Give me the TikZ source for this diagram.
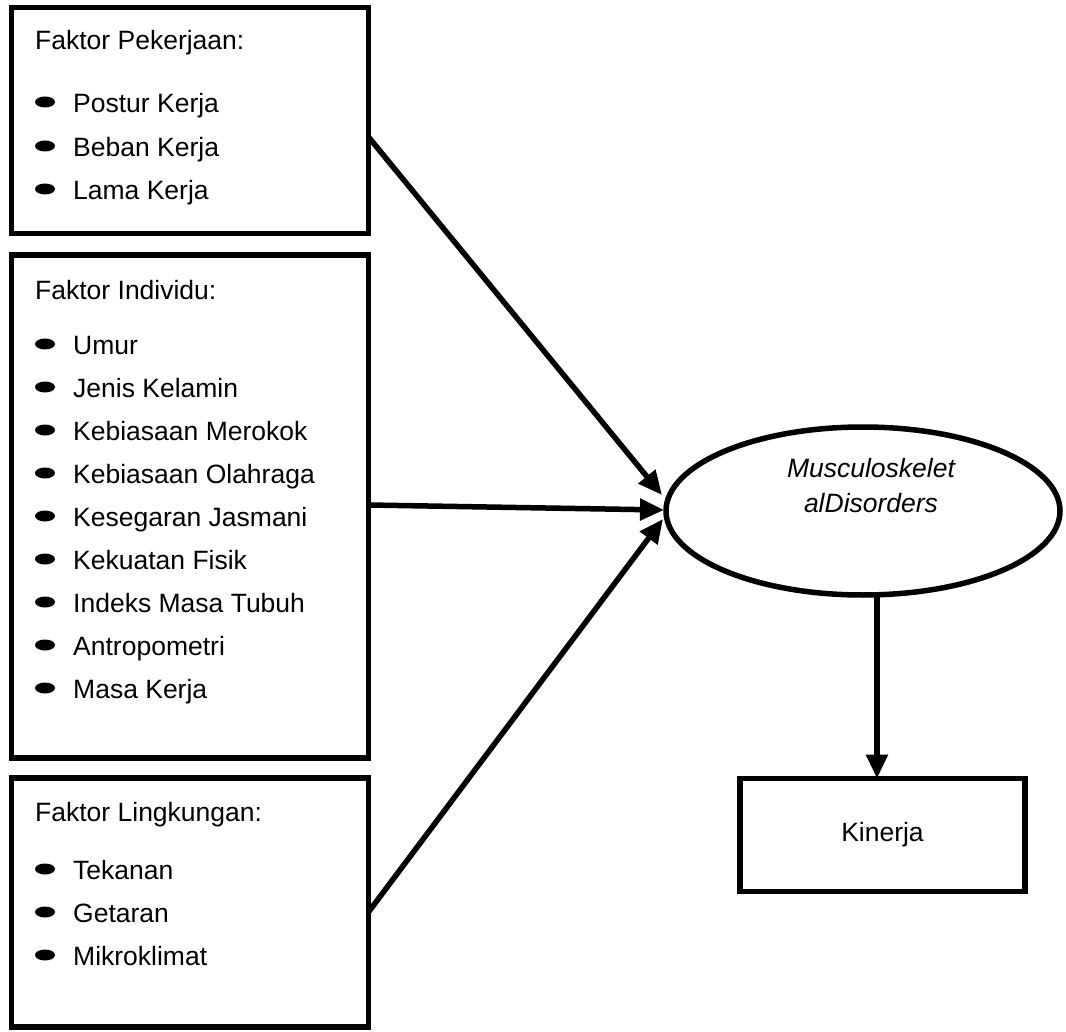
\documentclass[tikz,border=0pt]{standalone}
\usepackage{fontspec}
\setmainfont{Liberation Sans}
\usetikzlibrary{arrows.meta,shapes.geometric}

\begin{document}
\begin{tikzpicture}[x=1pt,y=-1pt,
        kotak/.style={draw,line width=5.5pt,outer sep=0pt,inner sep=0pt,font=\fontsize{26.5}{31}\selectfont},
        teks/.style={anchor=base west,inner sep=0pt,font=\fontsize{26.5}{31}\selectfont},
        titik/.style={fill,ellipse,minimum width=20pt,minimum height=11pt,inner sep=0pt},
        panah/.style={line width=5.5pt,-{Triangle[length=24pt,width=21pt]}}]
        \useasboundingbox (0,0) rectangle (1066,1032);
        % kotak faktor
        \node[kotak,minimum width=357pt,minimum height=226pt] (pekerjaan) at (190,120.5) {};
        \node[kotak,minimum width=357pt,minimum height=503pt] (individu) at (190,506.5) {};
        \node[kotak,minimum width=357pt,minimum height=249pt] (lingkungan) at (190,902.5) {};
        \node[kotak,ellipse,minimum width=394pt,minimum height=168pt] (msd) at (863,511) {};
        \node[kotak,minimum width=285pt,minimum height=113pt] (kinerja) at (882.5,835) {Kinerja};
        \node[align=center,font=\fontsize{26.5}{35}\selectfont\itshape] (msdteks) at (871,486) {Musculoskelet\\alDisorders};
        % faktor pekerjaan
        \node[teks] (judul1) at (35,49.5) {Faktor Pekerjaan:};
        \node[titik] (t11) at (45,102) {}; \node[teks] (postur) at (73,112.5) {Postur Kerja};
        \node[titik] (t12) at (45,146) {}; \node[teks] (beban) at (73,156.5) {Beban Kerja};
        \node[titik] (t13) at (45,189) {}; \node[teks] (lama) at (73,199.5) {Lama Kerja};
        % faktor individu
        \node[teks] (judul2) at (35,299.5) {Faktor Individu:};
        \node[titik] (t21) at (45,344) {}; \node[teks] (umur) at (73,354.5) {Umur};
        \node[titik] (t22) at (45,387) {}; \node[teks] (jenis) at (73,397.5) {Jenis Kelamin};
        \node[titik] (t23) at (45,430) {}; \node[teks] (merokok) at (73,440.5) {Kebiasaan Merokok};
        \node[titik] (t24) at (45,473) {}; \node[teks] (olahraga) at (73,483.5) {Kebiasaan Olahraga};
        \node[titik] (t25) at (45,516) {}; \node[teks] (kesegaran) at (73,526.5) {Kesegaran Jasmani};
        \node[titik] (t26) at (45,559) {}; \node[teks] (kekuatan) at (73,569.5) {Kekuatan Fisik};
        \node[titik] (t27) at (45,602) {}; \node[teks] (imt) at (73,612.5) {Indeks Masa Tubuh};
        \node[titik] (t28) at (45,645) {}; \node[teks] (antropometri) at (73,655.5) {Antropometri};
        \node[titik] (t29) at (45,688) {}; \node[teks] (masa) at (73,698.5) {Masa Kerja};
        % faktor lingkungan
        \node[teks] (judul3) at (35,821.5) {Faktor Lingkungan:};
        \node[titik] (t31) at (45,869) {}; \node[teks] (tekanan) at (73,879.5) {Tekanan};
        \node[titik] (t32) at (45,912) {}; \node[teks] (getaran) at (73,922.5) {Getaran};
        \node[titik] (t33) at (45,955) {}; \node[teks] (mikroklimat) at (73,965.5) {Mikroklimat};
        % panah
        \coordinate (masuk) at ([xshift=-5.5pt]kinerja.north);
        \draw[panah] ([yshift=-16.5pt]pekerjaan.east) -- ([xshift=-4pt,yshift=16pt]msd.west);
        \draw[panah] ([yshift=1.5pt]individu.east) -- ([xshift=-2pt,yshift=1pt]msd.west);
        \draw[panah] ([yshift=-9.5pt]lingkungan.east) -- ([xshift=-3pt,yshift=-8pt]msd.west);
        \draw[panah] (msd.south -| masuk) -- (masuk);
    \end{tikzpicture}
\end{document}
